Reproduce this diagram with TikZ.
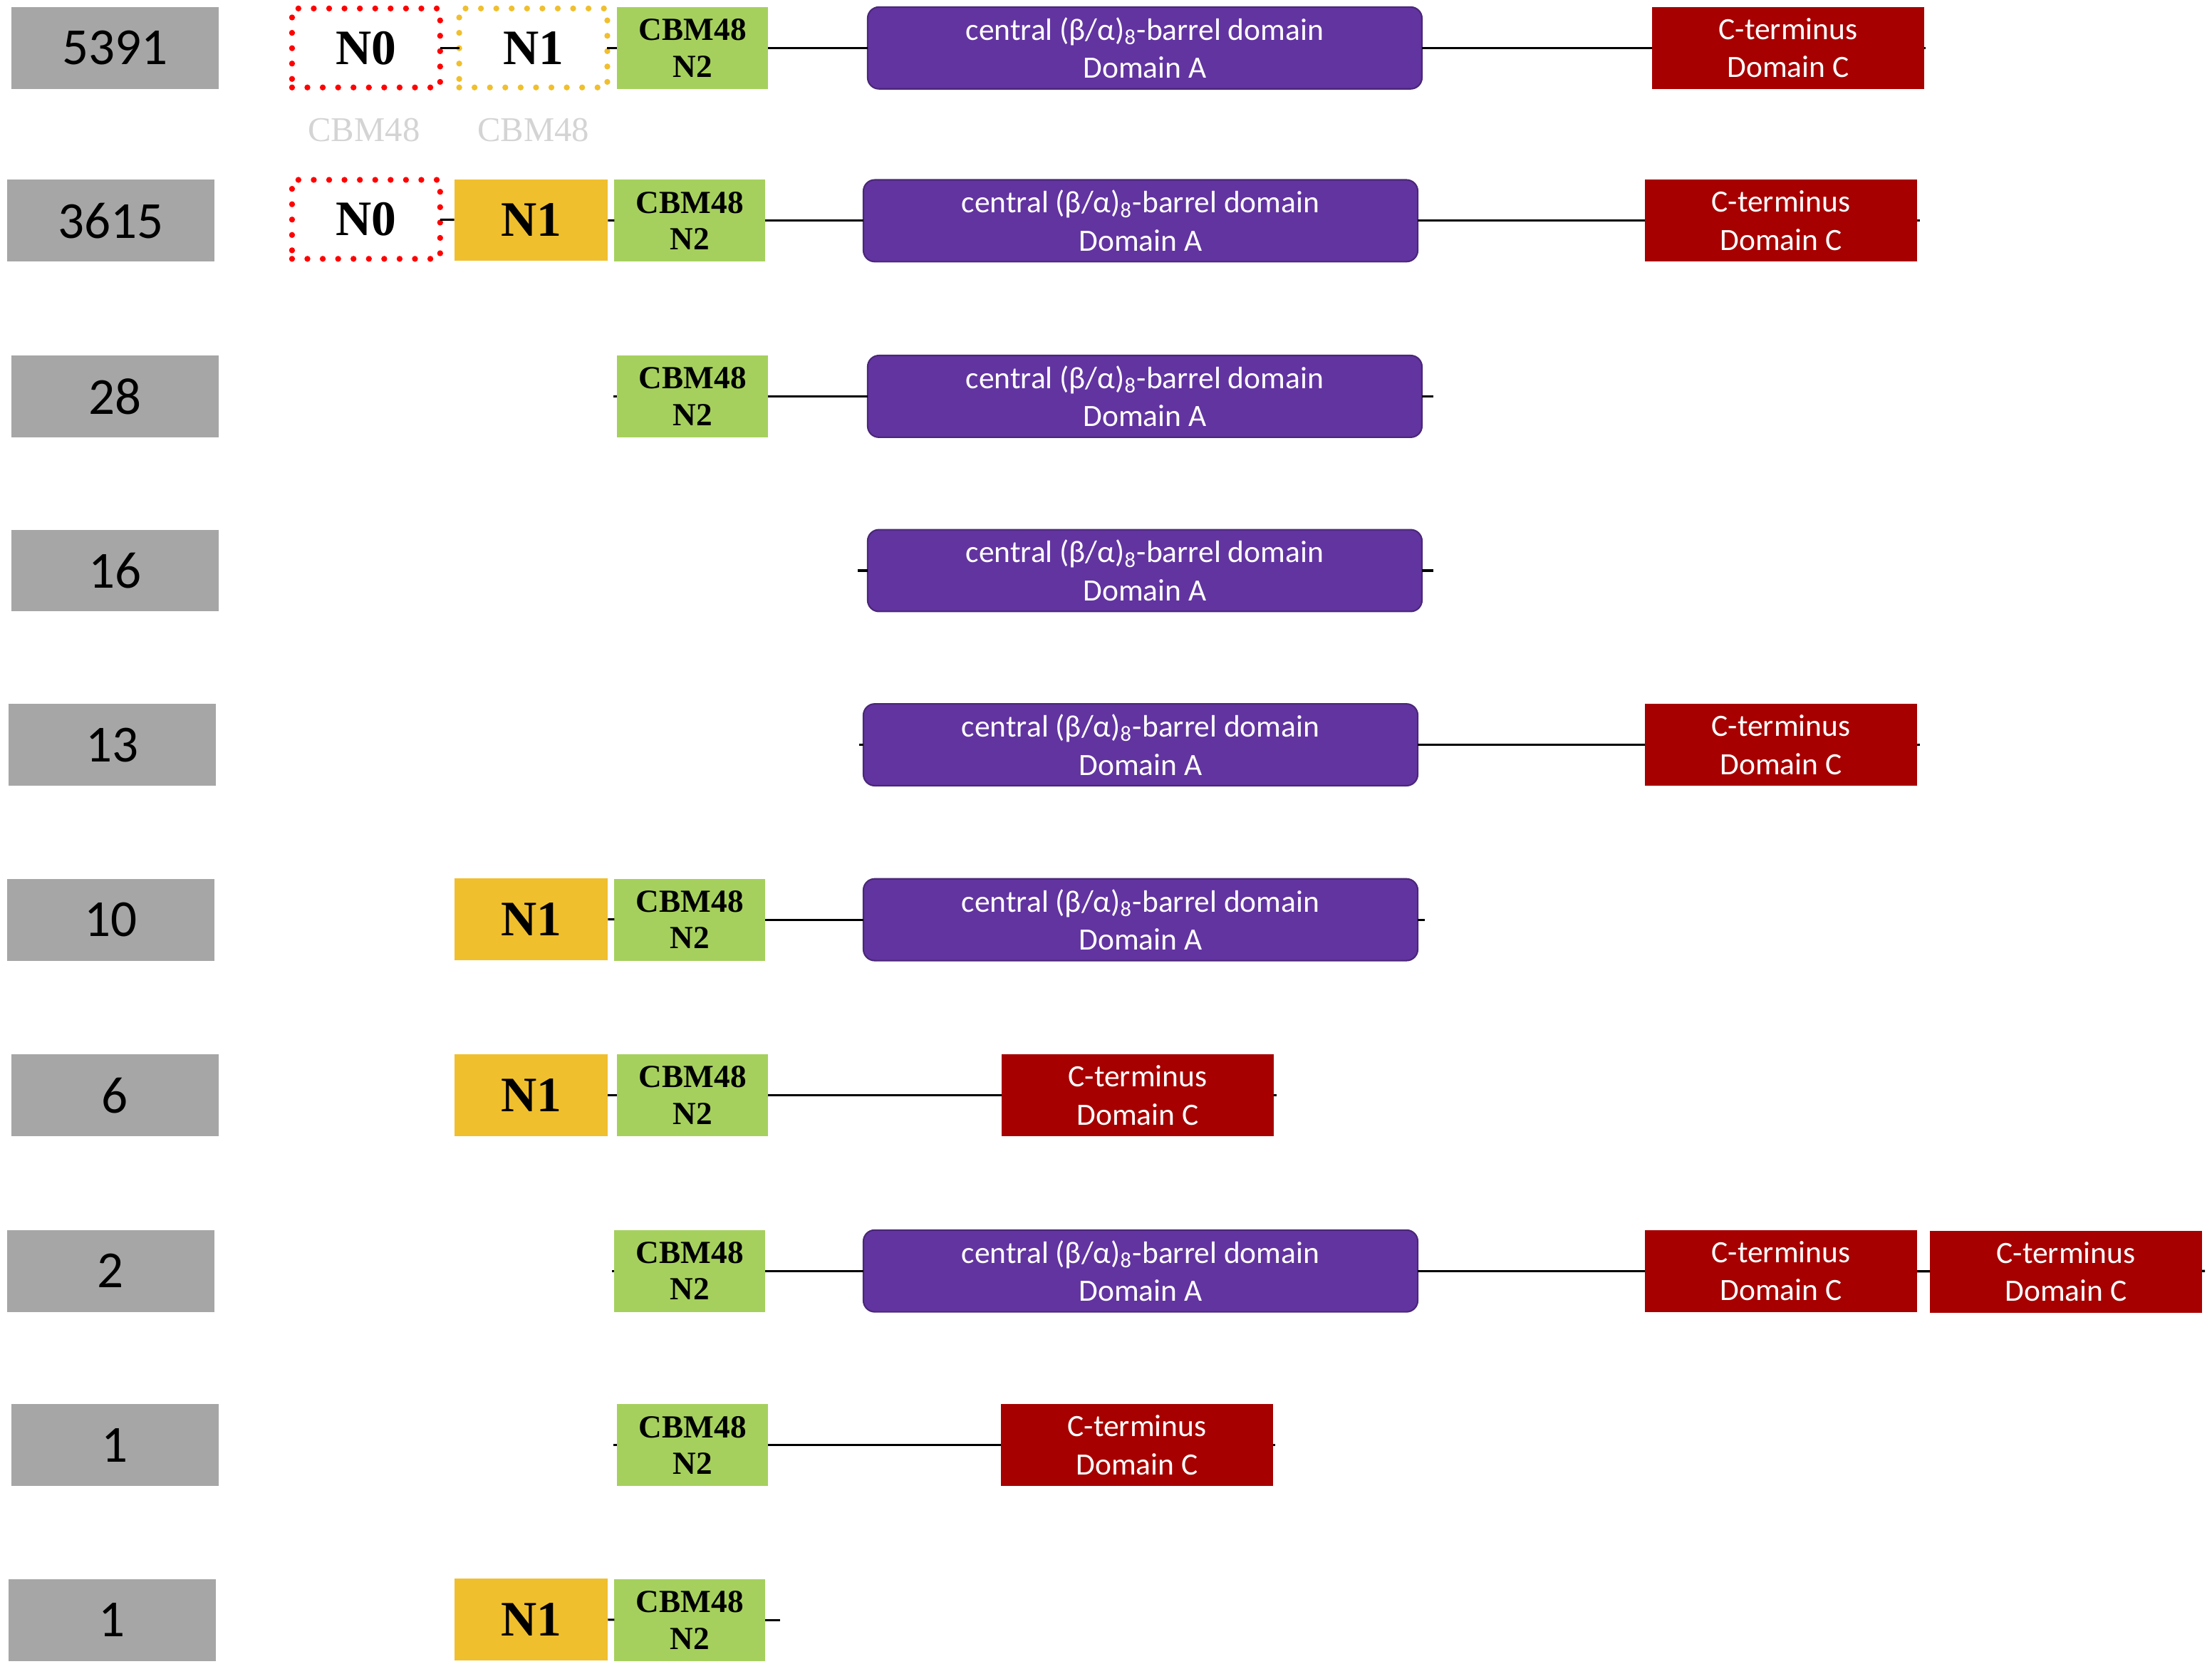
\documentclass[tikz,border=0pt]{standalone}
\usepackage{fontspec}
\setmainfont{Liberation Serif}
\newfontfamily\calibri{Carlito}
\definecolor{countGray}{HTML}{A6A6A6}
\definecolor{cbmGreen}{HTML}{A6D05D}
\definecolor{nOneYellow}{HTML}{F0BF2E}
\definecolor{barrelPurple}{HTML}{6234A0}
\definecolor{ctermRed}{HTML}{A60000}
\definecolor{ghostGray}{HTML}{D4D4D4}

\begin{document}
\begin{tikzpicture}[x=0.02cm, y=-0.02cm, inner sep=0pt, outer sep=0pt]
            \tikzstyle{countBox} = [rectangle, fill=countGray, minimum width=2.94cm, minimum height=1.16cm,
                                    font=\calibri\fontsize{21}{24}\selectfont]
            \tikzstyle{dotRed} = [rectangle, draw=red, fill=white, line width=2.4pt, line cap=round,
                                  dash pattern=on 0pt off 6.2pt, minimum width=2.1cm, minimum height=1.12cm,
                                  font=\bfseries\fontsize{20}{22}\selectfont]
            \tikzstyle{dotYellow} = [dotRed, draw=nOneYellow]
            \tikzstyle{nOneBox} = [rectangle, fill=nOneYellow, minimum width=2.18cm, minimum height=1.16cm,
                                   font=\bfseries\fontsize{20}{22}\selectfont]
            \tikzstyle{cbmBox} = [rectangle, fill=cbmGreen, minimum width=2.14cm, minimum height=1.16cm,
                                  align=center, font=\bfseries\fontsize{13}{14.8}\selectfont]
            \tikzstyle{barrelBox} = [rectangle, rounded corners=0.16cm, fill=barrelPurple,
                                     draw=barrelPurple!75!black, line width=0.6pt, text=white,
                                     minimum width=7.86cm, minimum height=1.16cm, align=center,
                                     font=\calibri\fontsize{12.5}{15.4}\selectfont]
            \tikzstyle{ctermBox} = [rectangle, fill=ctermRed, text=white, minimum width=3.86cm,
                                    minimum height=1.16cm, align=center,
                                    font=\calibri\fontsize{12.5}{15.4}\selectfont]
            \tikzstyle{ghostLabel} = [text=ghostGray, font=\fontsize{14}{16}\selectfont]
            \tikzstyle{blackEdge} = [draw=black, line width=0.9pt]
            \useasboundingbox (0,0) rectangle (1568,1183);
            % row 1
            \node[countBox] (g1) at (81.5,34) {5391};
            \node[dotRed] (z1) at (259.5,34) {N0};
            \node[dotYellow] (y1) at (378,34) {N1};
            \node[cbmBox] (b1) at (491,34) {CBM48\\N2};
            \node[barrelBox] (a1) at (811.5,34) {central (β/α)\textsubscript{8}-barrel domain\\Domain A};
            \node[ctermBox] (c1) at (1267.5,34) {C-terminus\\Domain C};
            \coordinate (e1) at (1365,34);
            \node[ghostLabel] (l0) at (258,92) {CBM48};
            \node[ghostLabel] (l1) at (378,92) {CBM48};
            % row 2
            \node[countBox] (g2) at (78.5,156.5) {3615};
            \node[dotRed] (z2) at (259.5,155.5) {N0};
            \node[nOneBox] (y2) at (376.5,156) {N1};
            \node[cbmBox] (b2) at (489,156.5) {CBM48\\N2};
            \node[barrelBox] (a2) at (808.5,156.5) {central (β/α)\textsubscript{8}-barrel domain\\Domain A};
            \node[ctermBox] (c2) at (1262.5,156.5) {C-terminus\\Domain C};
            \coordinate (e2) at (1361,156.5);
            % row 3
            \node[countBox] (g3) at (81.5,281) {28};
            \coordinate (s3) at (435,281);
            \node[cbmBox] (b3) at (491,281) {CBM48\\N2};
            \node[barrelBox] (a3) at (811.5,281) {central (β/α)\textsubscript{8}-barrel domain\\Domain A};
            \coordinate (e3) at (1016,281);
            % row 4
            \node[countBox] (g4) at (81.5,404.5) {16};
            \coordinate (s4) at (608,404.5);
            \node[barrelBox] (a4) at (811.5,404.5) {central (β/α)\textsubscript{8}-barrel domain\\Domain A};
            \coordinate (e4) at (1016,404.5);
            % row 5
            \node[countBox] (g5) at (79.5,528) {13};
            \coordinate (s5) at (609,528);
            \node[barrelBox] (a5) at (808.5,528) {central (β/α)\textsubscript{8}-barrel domain\\Domain A};
            \node[ctermBox] (c5) at (1262.5,528) {C-terminus\\Domain C};
            \coordinate (e5) at (1361,528);
            % row 6
            \node[countBox] (g6) at (78.5,652) {10};
            \node[nOneBox] (y6) at (376.5,651.5) {N1};
            \node[cbmBox] (b6) at (489,652) {CBM48\\N2};
            \node[barrelBox] (a6) at (808.5,652) {central (β/α)\textsubscript{8}-barrel domain\\Domain A};
            \coordinate (e6) at (1010,652);
            % row 7
            \node[countBox] (g7) at (81.5,776.5) {6};
            \node[nOneBox] (y7) at (376.5,776.5) {N1};
            \node[cbmBox] (b7) at (491,776.5) {CBM48\\N2};
            \node[ctermBox] (c7) at (806.5,776.5) {C-terminus\\Domain C};
            \coordinate (e7) at (905,776.5);
            % row 8
            \node[countBox] (g8) at (78.5,901) {2};
            \coordinate (s8) at (434,901);
            \node[cbmBox] (b8) at (489,901) {CBM48\\N2};
            \node[barrelBox] (a8) at (808.5,901) {central (β/α)\textsubscript{8}-barrel domain\\Domain A};
            \node[ctermBox] (c8) at (1262.5,901) {C-terminus\\Domain C};
            \node[ctermBox] (d8) at (1464.5,901.5) {C-terminus\\Domain C};
            \coordinate (e8) at (1563,901);
            % row 9
            \node[countBox] (g9) at (81.5,1024.5) {1};
            \coordinate (s9) at (435,1024.5);
            \node[cbmBox] (b9) at (491,1024.5) {CBM48\\N2};
            \node[ctermBox] (c9) at (806,1024.5) {C-terminus\\Domain C};
            \coordinate (e9) at (904,1024.5);
            % row 10
            \node[countBox] (g10) at (79.5,1148.5) {1};
            \node[nOneBox] (y10) at (376.5,1148) {N1};
            \node[cbmBox] (b10) at (489,1148.5) {CBM48\\N2};
            \coordinate (e10) at (553,1148.5);
            \foreach \from/\to in {z1/y1,y1/b1,b1/a1,a1/c1,c1/e1,
                                   z2/y2,y2/b2,b2/a2,a2/c2,c2/e2,
                                   s3/b3,b3/a3,a3/e3,s4/a4,a4/e4,
                                   s5/a5,a5/c5,c5/e5,y6/b6,b6/a6,a6/e6}
                \path[blackEdge] (\from) edge (\to);
            \foreach \from/\to in {y7/b7,b7/c7,c7/e7,
                                   s8/b8,b8/a8,a8/c8,c8/d8,d8/e8,
                                   s9/b9,b9/c9,c9/e9,y10/b10,b10/e10}
                \path[blackEdge] (\from) edge (\to);
        \end{tikzpicture}
\end{document}
